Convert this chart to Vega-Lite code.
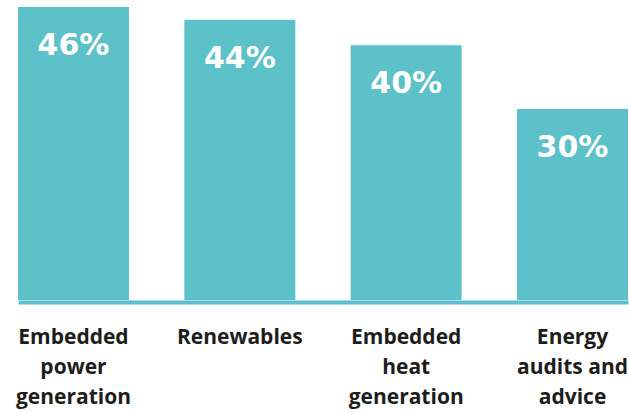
{
  "$schema": "https://vega.github.io/schema/vega-lite/v6.json",
  "width": 610,
  "height": 300,
  "autosize": {"type": "none"},
  "padding": {"left": 18, "top": 0, "right": 1, "bottom": 112},
  "background": "white",
  "config": {"view": {"stroke": null}},
  "data": {"values": [
    {"category": "Embedded|power|generation", "value": 46, "label": "46%"},
    {"category": "Renewables", "value": 44, "label": "44%"},
    {"category": "Embedded|heat|generation", "value": 40, "label": "40%"},
    {"category": "Energy|audits and|advice", "value": 30, "label": "30%"}
  ]},
  "encoding": {
    "x": {
      "field": "category", "type": "nominal", "sort": null,
      "scale": {"paddingInner": 0.333, "paddingOuter": 0},
      "axis": {
        "title": null, "labelAngle": 0, "ticks": false,
        "domainColor": "#5bbfcf", "domainWidth": 4, "offset": 2,
        "labelExpr": "split(datum.label, '|')",
        "labelFont": "Open Sans", "labelFontWeight": "bold", "labelFontSize": 21,
        "labelColor": "#1d1d1b", "labelLineHeight": 30, "labelPadding": 24,
        "labelBaseline": "top", "labelAlign": "center"
      }
    },
    "y": {
      "field": "value", "type": "quantitative",
      "scale": {"domain": [0, 47.1], "nice": false},
      "axis": null
    }
  },
  "layer": [
    {"mark": {"type": "bar", "color": "#5cc1c8"}},
    {
      "mark": {"type": "text", "color": "white", "font": "DejaVu Sans", "fontWeight": "bold", "fontSize": 30, "baseline": "alphabetic", "dy": 48, "align": "center"},
      "encoding": {"text": {"field": "label", "type": "nominal"}}
    }
  ]
}
